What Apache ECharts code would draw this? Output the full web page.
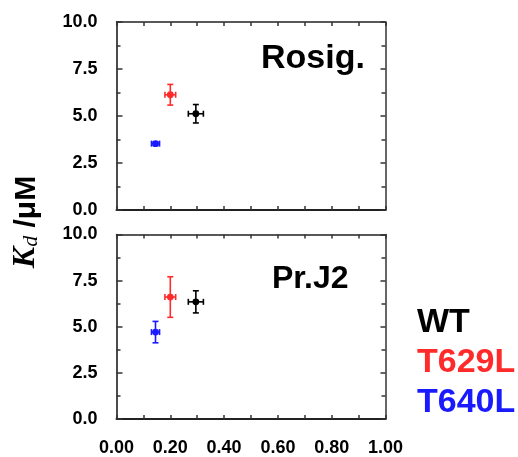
<!DOCTYPE html>
<html><head><meta charset="utf-8">
<script src="https://cdn.jsdelivr.net/npm/echarts@6/dist/echarts.min.js"></script>
<style>html,body{margin:0;padding:0;background:#fff}#c{width:518px;height:457px}</style>
</head><body><div id="c"></div>
<script>
const categories = ['WT', 'T629L', 'T640L'];
const colors = ['#000000', '#ff2a2a', '#1a1aff'];
const xVals = [0.295, 0.20, 0.145];
const xErr = [0.028, 0.02, 0.015];
const rosigY = [5.12, 6.13, 3.53];
const rosigYErr = [0.49, 0.55, 0.10];
const prj2Y = [6.35, 6.61, 4.71];
const prj2YErr = [0.60, 1.10, 0.58];
const panelLabels = ['Rosig.', 'Pr.J2'];

const FONT = '"Liberation Sans", Arial, sans-serif';
const SERIF = '"Liberation Serif", "Times New Roman", serif';
const chart = echarts.init(document.getElementById('c'), null, {renderer: 'canvas'});

function renderItem(params, api) {
  const x = api.value(0), y = api.value(1), ex = api.value(2), ey = api.value(3);
  const c = colors[api.value(4)];
  const p = api.coord([x, y]);
  const pl = api.coord([x - ex, y]), pr = api.coord([x + ex, y]);
  const pt = api.coord([x, y + ey]), pb = api.coord([x, y - ey]);
  const cap = 3;
  const st = {stroke: c, lineWidth: 1.6};
  return {type: 'group', children: [
    {type: 'line', shape: {x1: pl[0], y1: p[1], x2: pr[0], y2: p[1]}, style: st},
    {type: 'line', shape: {x1: p[0], y1: pt[1], x2: p[0], y2: pb[1]}, style: st},
    {type: 'line', shape: {x1: pl[0], y1: p[1]-cap, x2: pl[0], y2: p[1]+cap}, style: st},
    {type: 'line', shape: {x1: pr[0], y1: p[1]-cap, x2: pr[0], y2: p[1]+cap}, style: st},
    {type: 'line', shape: {x1: p[0]-cap, y1: pt[1], x2: p[0]+cap, y2: pt[1]}, style: st},
    {type: 'line', shape: {x1: p[0]-cap, y1: pb[1], x2: p[0]+cap, y2: pb[1]}, style: st},
    {type: 'circle', shape: {cx: p[0], cy: p[1], r: 3.4}, style: {fill: c}}
  ]};
}

function mkData(ys, eys) {
  return categories.map((n, i) => [xVals[i], ys[i], xErr[i], eys[i], i]);
}

const grids = [
  {left: 116.5, top: 22, width: 269, height: 188},
  {left: 116.5, top: 234.5, width: 269, height: 189}
];
const lblStyle = {fontFamily: FONT, fontWeight: 'bold', fontSize: 18, color: '#000'};
const tickStyle = {color: '#333', width: 1.5};
const xAxes = [], yAxes = [];
grids.forEach((g, gi) => {
  xAxes.push({gridIndex: gi, type: 'value', min: 0, max: 1, interval: 0.2, position: 'bottom',
    axisLine: {onZero: false, lineStyle: {color: '#222', width: 2}},
    axisTick: {show: true, inside: true, length: 4, lineStyle: tickStyle},
    minorTick: {show: true, splitNumber: 2, length: 4, lineStyle: tickStyle},
    splitLine: {show: false},
    axisLabel: {show: gi === 1, margin: 20, ...lblStyle, formatter: v => v.toFixed(2)}
  });
  xAxes.push({gridIndex: gi, type: 'value', min: 0, max: 1, interval: 0.2, position: 'top',
    axisLine: {onZero: false, lineStyle: {color: '#222', width: 1.5}},
    axisTick: {show: true, inside: true, length: 4, lineStyle: tickStyle},
    minorTick: {show: true, splitNumber: 2, length: 4, lineStyle: tickStyle},
    splitLine: {show: false}, axisLabel: {show: false}
  });
  yAxes.push({gridIndex: gi, type: 'value', min: 0, max: 10, interval: 2.5, position: 'left',
    axisLine: {onZero: false, lineStyle: {color: '#111', width: 1.5}},
    axisTick: {show: true, inside: true, length: 6, lineStyle: tickStyle},
    minorTick: {show: true, splitNumber: 2, length: 4, lineStyle: tickStyle},
    splitLine: {show: false},
    axisLabel: {margin: 19, ...lblStyle, formatter: v => v.toFixed(1)}
  });
  yAxes.push({gridIndex: gi, type: 'value', min: 0, max: 10, interval: 2.5, position: 'right',
    axisLine: {onZero: false, lineStyle: {color: '#333', width: 1.5}},
    axisTick: {show: true, inside: true, length: 5, lineStyle: tickStyle},
    minorTick: {show: true, splitNumber: 2, length: 4, lineStyle: tickStyle},
    splitLine: {show: false}, axisLabel: {show: false}
  });
});

const big = {fontFamily: FONT, fontWeight: 'bold', fontSize: 34, fill: '#000', verticalAlign: 'middle', align: 'left'};
chart.setOption({
  animation: false,
  grid: grids,
  xAxis: xAxes,
  yAxis: yAxes,
  series: [
    {type: 'custom', xAxisIndex: 0, yAxisIndex: 0, renderItem, data: mkData(rosigY, rosigYErr), encode: {x: 0, y: 1}},
    {type: 'custom', xAxisIndex: 2, yAxisIndex: 2, renderItem, data: mkData(prj2Y, prj2YErr), encode: {x: 0, y: 1}}
  ],
  graphic: [
    {type: 'text', x: 261, y: 59, style: {...big, text: panelLabels[0]}},
    {type: 'text', x: 272, y: 279, style: {...big, fontSize: 32, text: panelLabels[1]}},
    {type: 'text', x: 417, y: 323, style: {...big, text: categories[0], fill: colors[0]}},
    {type: 'text', x: 417, y: 363, style: {...big, text: categories[1], fill: colors[1]}},
    {type: 'text', x: 417, y: 403, style: {...big, text: categories[2], fill: colors[2]}},
    {type: 'text', x: 25, y: 222, rotation: Math.PI / 2,
      style: {text: '{k|K}{d|d}{u| /μM}', align: 'center', verticalAlign: 'middle',
        rich: {
          k: {fontFamily: SERIF, fontWeight: 'bold', fontStyle: 'italic', fontSize: 32, lineHeight: 34, verticalAlign: 'bottom'},
          d: {fontFamily: SERIF, fontStyle: 'italic', fontSize: 22, lineHeight: 34, verticalAlign: 'bottom'},
          u: {fontFamily: FONT, fontWeight: 'bold', fontSize: 30, lineHeight: 34, verticalAlign: 'bottom'}
        }}}
  ]
});
</script></body></html>
